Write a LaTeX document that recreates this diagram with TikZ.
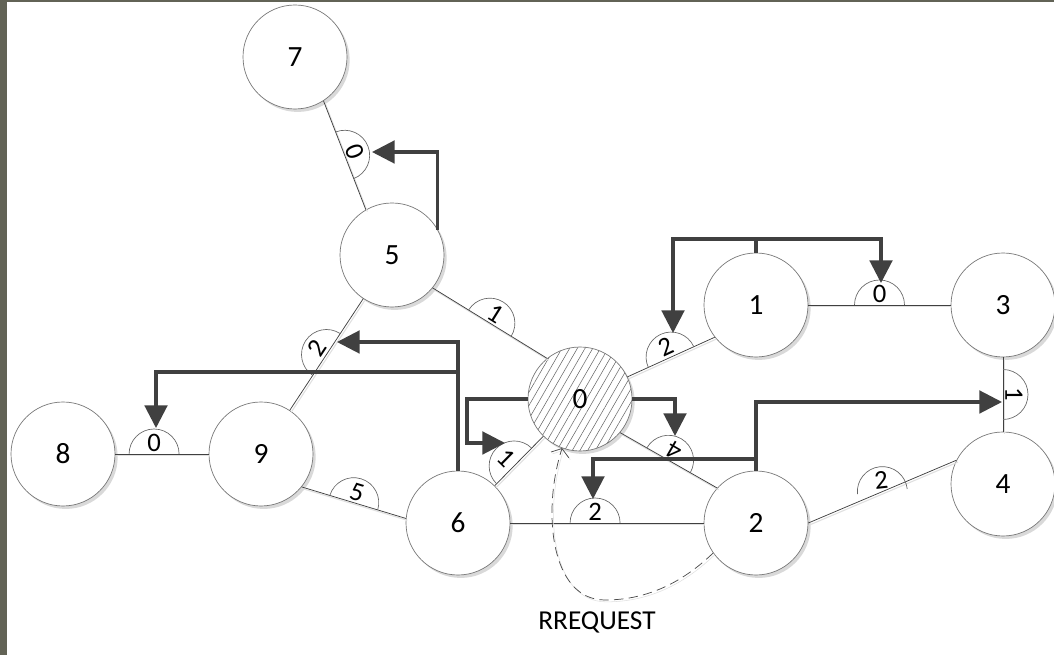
\documentclass[tikz,border=0pt]{standalone}
\usepackage{fontspec}
\setmainfont{Carlito}
\usetikzlibrary{arrows.meta,calc,shadows,patterns.meta}
\definecolor{frame}{RGB}{98,99,86}
\definecolor{ink}{RGB}{64,64,64}
\newcommand{\vfont}{\fontsize{22}{26}\selectfont}
\newcommand{\wfont}{\fontsize{20}{24}\selectfont}
\newcommand{\rfont}{\fontsize{20.5}{24}\selectfont}

\begin{document}
\begin{tikzpicture}[x=0.75pt,y=0.75pt,yscale=-1,xscale=1,
  vtx/.style={circle, draw=black!55, line width=0.5pt, fill=white, minimum size=78pt, inner sep=0pt, font=\vfont,
    drop shadow={shadow xshift=2pt, shadow yshift=-2.2pt, fill=black!15, opacity=1}},
  src/.style={vtx, preaction={fill=white}, pattern={Lines[angle=60,distance=5pt,line width=0.4pt]}, pattern color=black!60},
  link/.style={draw=black!75, line width=0.55pt, preaction={draw=black!12, line width=0.8pt, transform canvas={xshift=1.1pt,yshift=-1.4pt}}},
  wline/.style={draw=black!60, line width=0.5pt},
  wlabel/.style={font=\wfont, inner sep=0pt},
  flow/.style={draw=ink, line width=2.3pt, -{Triangle[length=17pt,width=17pt]}},
  flowline/.style={draw=ink, line width=2.3pt},
  req/.style={draw=black!70, line width=0.55pt, dash pattern=on 7pt off 4pt, -{Straight Barb[length=5pt,width=14pt]},
    preaction={draw=black!12, transform canvas={xshift=1.1pt,yshift=-1.4pt}}},
  pics/wt/.style 2 args={code={
    \draw[wline] (-25,0) arc[start angle=180, end angle=0, radius=25];
    \node[wlabel, rotate=#2] at (0,11) {#1};
  }}
]
\useasboundingbox (0,0) rectangle (1054,655);
\fill[white] (0,0) rectangle (1054,655);
\fill[frame] (0,0) rectangle (7,655);
\fill[frame] (0,0) rectangle (1054,2);

%Nodes
\node[vtx] (n7) at (295,57) {7};
\node[vtx] (n5) at (392,255) {5};
\node[vtx] (n1) at (756,305) {1};
\node[vtx] (n3) at (1003,305) {3};
\node[src] (n0) at (580,399) {0};
\node[vtx] (n8) at (63,454) {8};
\node[vtx] (n9) at (261,454) {9};
\node[vtx] (n6) at (458,523) {6};
\node[vtx] (n2) at (756,523) {2};
\node[vtx] (n4) at (1003,484) {4};

%Links
\draw[link] (n7.303) -- (n5.120);
\draw[link] (n5.321) -- (n0.129);
\draw[link] (n5) -- (n9);
\draw[link] (n8) -- (n9);
\draw[link] (n9.321) -- (n6.175);
\draw[link] (n6) -- (n0);
\draw[link] (n6) -- (n2);
\draw[link] (n0.25) -- (n1.218);
\draw[link] (n0.320) -- (n2.138);
\draw[link] (n1) -- (n3);
\draw[link] (n3) -- (n4);
\draw[link] (n2.east) -- (n4.153);

%Weights
\pic[rotate=-68.7] at ($(n7.303)!.5!(n5.120)$) {wt={0}{-68.7}};
\pic[rotate=-32] at ($(n5.321)!.5!(n0.129)$) {wt={1}{-32}};
\pic[rotate=56.6] at ($(n9)!.5!(n5)$) {wt={2}{56.6}};
\pic at ($(n8)!.46!(n9)$) {wt={0}{0}};
\pic[rotate=-17] at ($(n9.321)!.5!(n6.175)$) {wt={5}{-17}};
\pic[rotate=45.5] at ($(n6)!.46!(n0)$) {wt={1}{-44.5}};
\pic at ($(n6)!.46!(n2)$) {wt={2}{0}};
\pic[rotate=25] at ($(n0.25)!.5!(n1.218)$) {wt={2}{25}};
\pic[rotate=-30] at ($(n0.320)!.5!(n2.138)$) {wt={4}{150}};
\pic at ($(n1)!.5!(n3)$) {wt={0}{0}};
\pic[rotate=-90] at ($(n3)!.5!(n4)$) {wt={1}{-90}};
\pic[rotate=6] at ($(n2.east)!.5!(n4.153)$) {wt={2}{6}};

%Arrow ends
\coordinate (t75) at (372,152);
\coordinate (b1) at (756,239);
\coordinate (t01) at (673,333);
\coordinate (t13) at (881,283);
\coordinate (t59) at (337,342);
\coordinate (b6) at (458,372);
\coordinate (t89) at (156,428);
\coordinate (c0) at (467,443);
\coordinate (t60) at (505,443);
\coordinate (t02) at (675,436);
\coordinate (t34) at (1002,402);
\coordinate (b2) at (756,459);
\coordinate (t62) at (593,499);

%Flows
\draw[flow] (n5.29) |- (t75);
\draw[flowline] (n1.north) -- (b1);
\draw[flow] (b1) -| (t01);
\draw[flow] (b1) -| (t13);
\draw[flow] (n6.north) |- (t59);
\draw[flow] (b6) -| (t89);
\draw[flow] (n0.west) -| (c0) -- (t60);
\draw[flow] (n0.east) -| (t02);
\draw[flow] (n2.north) |- (t34);
\draw[flow] (b2) -| (t62);

%Request
\coordinate (rq) at (605,600);
\draw[req] (n2.215) .. controls (685,580) and (650,600) .. (rq) .. controls (550,600) and (542,510) .. (n0.250);
\node[font=\rfont, inner sep=0pt] (rreq) at (597,622) {RREQUEST};

\end{tikzpicture}
\end{document}
